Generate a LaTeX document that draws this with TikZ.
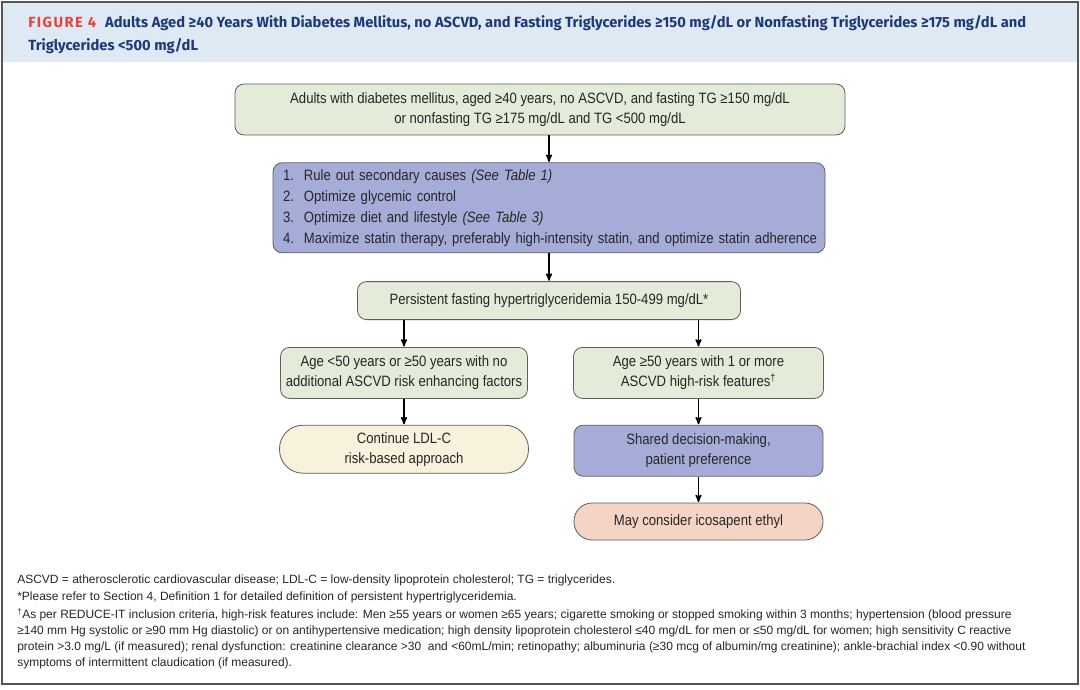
\documentclass[tikz,border=0pt]{standalone}
\usepackage{fontspec}
\setmainfont{Liberation Sans}
\newfontfamily\boxfont[FakeStretch=0.875]{Liberation Sans}
\newfontfamily\headfont{Fira Sans}
\usepackage{tikz}
\usetikzlibrary{arrows,positioning}

\definecolor{headbg}{HTML}{DFE9F4}
\definecolor{headblue}{HTML}{1D3A78}
\definecolor{figred}{HTML}{E8423F}
\definecolor{framegray}{HTML}{555555}
\definecolor{boxline}{HTML}{5E5E5E}
\definecolor{greenfill}{HTML}{E4EBD9}
\definecolor{bluefill}{HTML}{A6ACD8}
\definecolor{yellowfill}{HTML}{F8F2DC}
\definecolor{salmonfill}{HTML}{F4D4C4}

\begin{document}
\begin{tikzpicture}[x=1pt,y=-1pt,->,>=stealth',semithick,node distance=26pt,
                    font=\boxfont\fontsize{15}{20}\selectfont]
  \tikzstyle{box}=[draw=boxline,thick,rounded corners=9pt,align=center,inner sep=0pt,text=black!85]
  \tikzstyle{greenbox}=[box,fill=greenfill]
  \tikzstyle{bluebox}=[box,fill=bluefill]
  \tikzstyle{endbox}=[box,rounded corners=18pt]
  \tikzstyle{note}=[anchor=west,inner sep=0pt,align=left,text=black!85,font=\fontsize{12}{16}\selectfont]

  \useasboundingbox (0,0) rectangle (1080,690);
  \fill[headbg] (3,3) rectangle (1077,62);
  \draw[-,framegray,line width=1.5pt] (2,2) rectangle (1078,684);

  \node[anchor=north west,inner sep=0pt,align=left,text=headblue,
        font=\headfont\bfseries\fontsize{14.7}{23}\selectfont] (title) at (28,15.5)
    {{\color{figred}\addfontfeature{LetterSpace=10}FIGURE 4}\hspace{9pt}Adults Aged ≥40 Years With Diabetes Mellitus, no ASCVD, and Fasting Triglycerides ≥150 mg/dL or Nonfasting Triglycerides ≥175 mg/dL and\\Triglycerides <500 mg/dL};

  \node[greenbox,minimum width=610pt,minimum height=51pt] (adults) at (540,109.5)
    {Adults with diabetes mellitus, aged ≥40 years, no ASCVD, and fasting TG ≥150 mg/dL\\
     or nonfasting TG ≥175 mg/dL and TG <500 mg/dL};
  \node[bluebox,text width=532pt,inner xsep=10pt,inner ysep=2pt,minimum height=90pt,align=left,
        below=27pt of adults,xshift=9pt] (steps)
    {\fontsize{15}{21}\selectfont
     \begin{tabular}{@{}r@{\hspace{10pt}}l@{}}
       1.&Rule out secondary causes \textit{(See Table 1)}\\
       2.&Optimize glycemic control\\
       3.&Optimize diet and lifestyle \textit{(See Table 3)}\\
       4.&Maximize statin therapy, preferably high-intensity statin, and optimize statin adherence
     \end{tabular}};
  \node[greenbox,minimum width=383pt,minimum height=38pt,below=28pt of steps] (persist)
    {Persistent fasting hypertriglyceridemia 150-499 mg/dL*};
  \node[greenbox,minimum width=247pt,minimum height=51pt,below=27pt of persist,xshift=-145pt] (younger)
    {Age <50 years or ≥50 years with no\\additional ASCVD risk enhancing factors};
  \node[greenbox,minimum width=250pt,minimum height=51pt,below=27pt of persist,xshift=149.5pt] (older)
    {Age ≥50 years with 1 or more\\ASCVD high-risk features\textsuperscript{†}};
  \node[endbox,rounded corners=23.5pt,fill=yellowfill,minimum width=249pt,minimum height=48pt,below=of younger] (ldl)
    {Continue LDL-C\\risk-based approach};
  \node[bluebox,minimum width=249pt,minimum height=51pt,below=of older] (shared)
    {Shared decision-making,\\patient preference};
  \node[endbox,fill=salmonfill,minimum width=249pt,minimum height=37pt,below=of shared] (icosa)
    {May consider icosapent ethyl};

  \path[line width=1.5pt,shorten >=0.5pt]
        (adults.south -| steps.north) edge (steps.north)
        (steps.south -| persist.south) edge (persist.north)
        (persist.south -| younger.north) edge (younger.north)
        (persist.south -| older.north) edge (older.north)
        (younger) edge (ldl)
        (older) edge (shared)
        (shared) edge (icosa);

  \node[note] (abbr) at (17,580.5)
    {ASCVD = atherosclerotic cardiovascular disease; LDL-C = low-density lipoprotein cholesterol; TG = triglycerides.};
  \node[note] (star) at (17,597.5)
    {*Please refer to Section 4, Definition 1 for detailed definition of persistent hypertriglyceridemia.};
  \node[note,anchor=north west] (dagger) at (17,608)
    {\textsuperscript{†}As per REDUCE-IT inclusion criteria, high-risk features include: Men ≥55 years or women ≥65 years; cigarette smoking or stopped smoking within 3 months; hypertension (blood pressure\\
     ≥140 mm Hg systolic or ≥90 mm Hg diastolic) or on antihypertensive medication; high density lipoprotein cholesterol ≤40 mg/dL for men or ≤50 mg/dL for women; high sensitivity C reactive\\
     protein >3.0 mg/L (if measured); renal dysfunction: creatinine clearance >30\ \ and <60mL/min; retinopathy; albuminuria (≥30 mcg of albumin/mg creatinine); ankle-brachial index <0.90 without\\
     symptoms of intermittent claudication (if measured).};
\end{tikzpicture}
\end{document}
